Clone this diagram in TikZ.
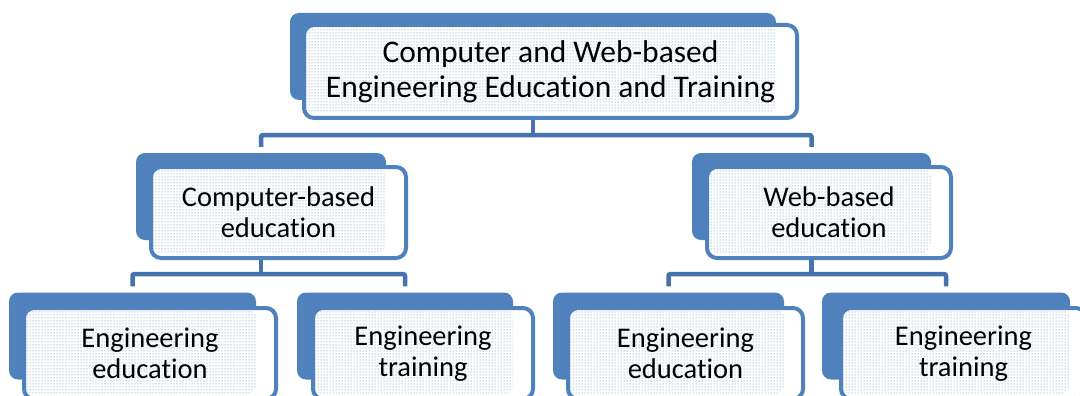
\documentclass[tikz,border=0pt]{standalone}
\usepackage{fontspec}
\setmainfont{Carlito}[Ligatures={NoCommon}]
\usetikzlibrary{patterns.meta}
\definecolor{boxblue}{HTML}{4F81BD}
\definecolor{connblue}{HTML}{4672AE}
\definecolor{dotblue}{HTML}{B4C7E4}
\pgfdeclarelayer{bg}
\pgfsetlayers{bg,main}
\tikzdeclarepattern{name=sadots, type=uncolored,
  bounding box={(-1.5pt,-1.5pt) and (1.5pt,1.5pt)},
  tile size={(3pt,3pt)},
  code={\fill (0pt,0pt) circle (0.75pt);}}
\begin{document}
\begin{tikzpicture}[x=1pt,y=-1pt,
  backbox/.style={fill=boxblue, rounded corners=9pt, minimum width=#1, minimum height=87pt, inner sep=0pt, draw=none},
  frontbox/.style={draw=boxblue, line width=4pt, fill=white, rounded corners=10pt, inner sep=0pt, align=center, font=\fontsize{28.5}{31}\selectfont},
  dotfill/.style={path picture={\fill[pattern=sadots, pattern color=dotblue] (path picture bounding box.north west) rectangle ([yshift=5pt]path picture bounding box.south -| #1.east);}},
  conn/.style={draw=connblue, line width=4.5pt, rounded corners=2pt}]
\useasboundingbox (0,0) rectangle (1080,396);
\clip (0,0) rectangle (1080,396);

% root
\node[backbox=486pt] (b0) at (533,56.5) {};
\node[frontbox, dotfill=b0, minimum width=493pt, minimum height=93pt, font=\fontsize{31.5}{35}\selectfont] (f0) at (550.5,71.5) {Computer and Web-based\\Engineering Education and Training};

% level 2
\node[backbox=250pt] (b1) at (261,196.5) {};
\node[frontbox, dotfill=b1, minimum width=255pt, minimum height=91pt] (f1) at (278.5,212.5) {Computer-based\\education};
\node[backbox=239pt] (b2) at (811.5,196.5) {};
\node[frontbox, dotfill=b2, minimum width=244pt, minimum height=91pt] (f2) at (829,212.5) {Web-based\\education};

% level 3
\node[backbox=247pt] (b3) at (132.5,336) {};
\node[frontbox, dotfill=b3, minimum width=252pt, minimum height=91pt] (f3) at (150,353.5) {Engineering\\education};
\node[backbox=216pt] (b4) at (405,336) {};
\node[frontbox, dotfill=b4, minimum width=220pt, minimum height=91pt] (f4) at (423,353.5) {Engineering\\training};
\node[backbox=231pt] (b5) at (668.5,336) {};
\node[frontbox, dotfill=b5, minimum width=235pt, minimum height=91pt] (f5) at (685.5,353.5) {Engineering\\education};
\node[backbox=248pt] (b6) at (946,336) {};
\node[frontbox, dotfill=b6, minimum width=245pt, minimum height=91pt] (f6) at (963.5,353.5) {Engineering\\training};

% connectors
\coordinate (j0) at (b0.center |- 0,135);
\coordinate (j1) at (b1.center |- 0,274);
\coordinate (j2) at (b2.center |- 0,274);
\begin{pgfonlayer}{bg}
\draw[conn] (f0.south -| b0.center) -- (j0);
\draw[conn] ([yshift=6pt]b1.north) |- (j0) -| ([yshift=6pt]b2.north);
\draw[conn] (f1.south -| b1.center) -- (j1);
\draw[conn] ([yshift=6pt]b3.north) |- (j1) -| ([yshift=6pt]b4.north);
\draw[conn] (f2.south -| b2.center) -- (j2);
\draw[conn] ([yshift=6pt]b5.north) |- (j2) -| ([yshift=6pt]b6.north);
\end{pgfonlayer}
\end{tikzpicture}
\end{document}
